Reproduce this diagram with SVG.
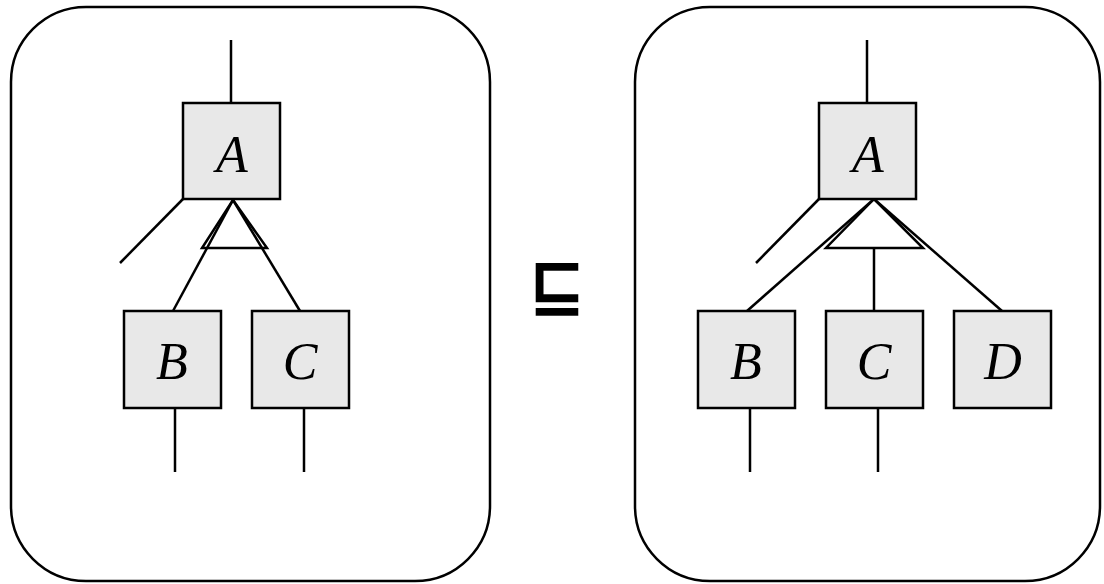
<svg xmlns="http://www.w3.org/2000/svg" width="1104" height="584" viewBox="0 0 1104 584">
<style>
.panel{fill:#fff;stroke:#000;stroke-width:2.5}
.box{fill:#e8e8e8;stroke:#000;stroke-width:2.5}
.lbl{font-family:"Liberation Serif","Times New Roman",serif;font-style:italic;font-size:52px;text-anchor:middle;fill:#000}
.ln{stroke:#000;stroke-width:2.5;fill:none}
.tri{fill:#fff;stroke:#000;stroke-width:2.5}
.sym{font-family:"DejaVu Sans",sans-serif;font-weight:bold;font-size:68px;text-anchor:middle;fill:#000}
</style>
<rect width="1104" height="584" fill="#fff"/>
<g id="panel-left"><rect class="panel" x="11" y="7" width="479" height="574" rx="75" ry="75"/></g>
<g id="panel-right"><rect class="panel" x="635" y="7" width="465" height="574" rx="75" ry="75"/></g>
<g id="connectors">
<line class="ln" x1="231" y1="40" x2="231" y2="103"/>
<line class="ln" x1="183" y1="199" x2="120" y2="263"/>
<polygon class="tri" points="233,200 202,248 267,248"/>
<line class="ln" x1="233" y1="200" x2="173" y2="311"/>
<line class="ln" x1="233" y1="200" x2="300" y2="311"/>
<line class="ln" x1="175" y1="408" x2="175" y2="472"/>
<line class="ln" x1="304" y1="408" x2="304" y2="472"/>
<line class="ln" x1="867" y1="40" x2="867" y2="103"/>
<line class="ln" x1="819" y1="199" x2="756" y2="263"/>
<polygon class="tri" points="874,199 826,248 923,248"/>
<line class="ln" x1="874" y1="199" x2="747" y2="311"/>
<line class="ln" x1="874" y1="199" x2="1002" y2="311"/>
<line class="ln" x1="874" y1="248" x2="874" y2="311"/>
<line class="ln" x1="750" y1="408" x2="750" y2="472"/>
<line class="ln" x1="878" y1="408" x2="878" y2="472"/>
</g>
<g id="L-A"><rect class="box" x="183" y="103" width="97" height="96"/><text class="lbl" x="232" y="172">A</text></g>
<g id="L-B"><rect class="box" x="124" y="311" width="97" height="97"/><text class="lbl" x="172" y="379">B</text></g>
<g id="L-C"><rect class="box" x="252" y="311" width="97" height="97"/><text class="lbl" x="300" y="379">C</text></g>
<g id="R-A"><rect class="box" x="819" y="103" width="97" height="96"/><text class="lbl" x="868" y="172">A</text></g>
<g id="R-B"><rect class="box" x="698" y="311" width="97" height="97"/><text class="lbl" x="746" y="379">B</text></g>
<g id="R-C"><rect class="box" x="826" y="311" width="97" height="97"/><text class="lbl" x="874" y="379">C</text></g>
<g id="R-D"><rect class="box" x="954" y="311" width="97" height="97"/><text class="lbl" x="1003" y="379">D</text></g>
<g id="relation"><text class="sym" x="557" y="308">⊑</text></g>
</svg>
